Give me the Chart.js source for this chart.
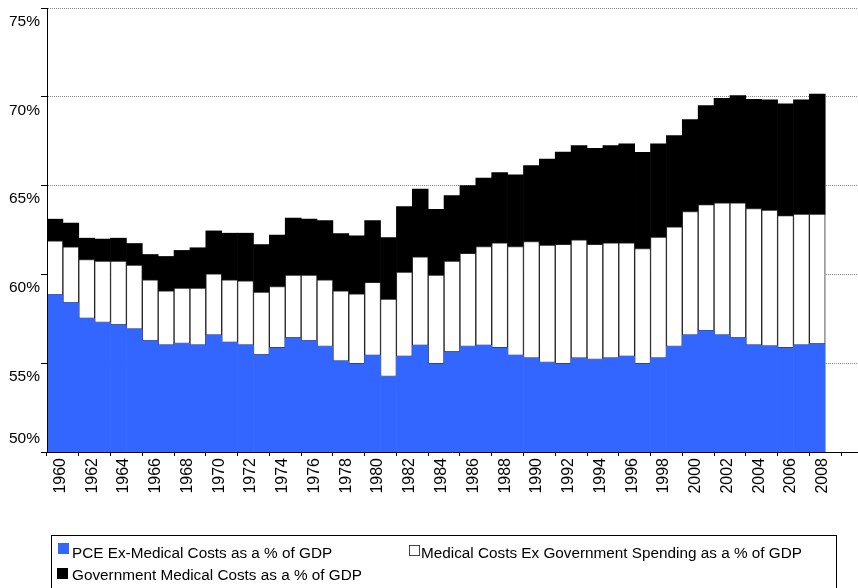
<!DOCTYPE html>
<html lang="en">
<head>
<meta charset="UTF-8">
<title>PCE and Medical Costs as a % of GDP</title>
<script src="https://cdn.jsdelivr.net/npm/chart.js"></script>
<style>
  html, body { margin: 0; padding: 0; background: #fff; }
  #wrap { position: relative; width: 858px; height: 588px; }
</style>
</head>
<body>
<div id="wrap"><canvas id="gdpChart"></canvas></div>

<script>
// categories (two empty years at the end, like the source axis)
const years = [
  '1960','1961','1962','1963','1964','1965','1966','1967','1968','1969',
  '1970','1971','1972','1973','1974','1975','1976','1977','1978','1979',
  '1980','1981','1982','1983','1984','1985','1986','1987','1988','1989',
  '1990','1991','1992','1993','1994','1995','1996','1997','1998','1999',
  '2000','2001','2002','2003','2004','2005','2006','2007','2008','2009','2010'
];
// only every other year gets a label
const yearLabels = [
  '1960','1962','1964','1966','1968','1970','1972','1974','1976','1978',
  '1980','1982','1984','1986','1988','1990','1992','1994','1996','1998',
  '2000','2002','2004','2006','2008'
];

// % of GDP, stacked: blue + white + black
const pceExMedical = [
  58.85, 58.40, 57.52, 57.29, 57.15, 56.92, 56.26, 56.02, 56.11, 56.02,
  56.58, 56.17, 56.02, 55.46, 55.87, 56.42, 56.26, 55.94, 55.12, 54.97,
  55.44, 54.25, 55.38, 56.00, 54.97, 55.63, 55.94, 56.00, 55.87, 55.44,
  55.29, 55.04, 54.97, 55.28, 55.21, 55.29, 55.38, 54.97, 55.29, 55.94,
  56.58, 56.83, 56.58, 56.43, 56.02, 55.96, 55.87, 56.02, 56.09
];
const privateMedical = [
  3.04, 3.15, 3.32, 3.46, 3.60, 3.60, 3.44, 3.06, 3.12, 3.21,
  3.45, 3.53, 3.62, 3.54, 3.45, 3.54, 3.70, 3.76, 3.96, 3.94,
  4.11, 4.36, 4.75, 4.99, 4.99, 5.12, 5.24, 5.57, 5.91, 6.13,
  6.56, 6.61, 6.73, 6.66, 6.49, 6.49, 6.40, 6.49, 6.81, 6.74,
  6.96, 7.10, 7.45, 7.60, 7.69, 7.66, 7.44, 7.37, 7.30
];
const governmentMedical = [
  1.22, 1.34, 1.20, 1.24, 1.29, 1.22, 1.42, 1.93, 2.12, 2.27,
  2.42, 2.62, 2.68, 2.68, 2.89, 3.21, 3.15, 3.33, 3.22, 3.26,
  3.48, 3.47, 3.69, 3.81, 3.71, 3.69, 3.82, 3.85, 3.95, 4.03,
  4.28, 4.84, 5.19, 5.31, 5.40, 5.47, 5.57, 5.42, 5.25, 5.14,
  5.18, 5.57, 5.89, 6.04, 6.15, 6.21, 6.29, 6.44, 6.76
];

const yTicks = [50, 55, 60, 65, 70, 75];

const seriesNames = [
  'PCE Ex-Medical Costs as a % of GDP',
  'Medical Costs Ex Government Spending as a % of GDP',
  'Government Medical Costs as a % of GDP'
];

// legend in a box under the chart, two items on the first row
const boxLegend = {
  id: 'boxLegend',
  afterDraw(chart) {
    const ctx = chart.ctx;
    const spots = [[58, 543, 72, 558], [409, 545, 421, 558], [57, 568, 72, 580]];
    ctx.save();
    ctx.strokeStyle = '#000';
    ctx.lineWidth = 1;
    ctx.strokeRect(51.5, 535.5, 785, 60);
    ctx.font = '15.3px "Liberation Sans", Arial, sans-serif';
    ctx.textBaseline = 'alphabetic';
    chart.data.datasets.forEach((ds, i) => {
      const [bx, by, tx, ty] = spots[i];
      ctx.fillStyle = ds.backgroundColor;
      ctx.fillRect(bx, by, 11, 11);
      if (ds.borderWidth) {
        ctx.strokeStyle = '#444';
        ctx.strokeRect(bx + 0.5, by + 0.5, 10, 10);
      }
      ctx.fillStyle = '#000';
      ctx.fillText(ds.label, tx, ty);
    });
    ctx.restore();
  }
};

new Chart(document.getElementById('gdpChart'), {
  type: 'bar',
  data: {
    labels: years,
    datasets: [
      { label: seriesNames[0], data: pceExMedical, backgroundColor: '#3366ff', borderWidth: 0 },
      { label: seriesNames[1], data: privateMedical, backgroundColor: '#ffffff',
        borderColor: '#222', borderWidth: 1, borderSkipped: false },
      { label: seriesNames[2], data: governmentMedical, backgroundColor: '#000000', borderWidth: 0 }
    ]
  },
  options: {
    responsive: true,
    maintainAspectRatio: false,
    animation: false,
    barPercentage: 1,
    categoryPercentage: 1,
    layout: { padding: { top: 8, right: 1, left: 0, bottom: 0 } },
    plugins: {
      legend: { display: false },
      tooltip: { enabled: false }
    },
    scales: {
      x: {
        stacked: true,
        offset: true,
        grid: {
          drawOnChartArea: false,
          offset: true,
          tickLength: 4,
          tickColor: c => c.index % 2 === 0 ? '#000' : 'rgba(0,0,0,0)'
        },
        border: { color: '#000', width: 1, z: 1 },
        ticks: {
          autoSkip: false,
          minRotation: 90,
          maxRotation: 90,
          padding: 2,
          labelOffset: 5.5,
          color: '#000',
          font: { family: '"Liberation Sans", Arial, sans-serif', size: 16 },
          callback: (v, i) => yearLabels.includes(years[i]) ? years[i] : ''
        },
        afterFit: s => { s.height = 136; s.paddingLeft = 0; s.paddingRight = 0; }
      },
      y: {
        stacked: true,
        min: 50,
        max: 75,
        afterBuildTicks: s => { s.ticks = yTicks.map(v => ({ value: v })); },
        grid: {
          color: c => (c.tick && c.tick.value === 50) ? 'rgba(0,0,0,0)' : '#8a8a8a',
          tickColor: '#000',
          tickLength: 6
        },
        border: { color: '#000', width: 1, z: 1, dash: [1, 1] },
        ticks: {
          padding: 1,
          color: '#000',
          font: { family: '"Liberation Sans", Arial, sans-serif', size: 15.5, lineHeight: 1.75 },
          // labels sit just under their grid line, the bottom one just above
          callback: v => v === 50 ? [v + '%', ''] : ['', v + '%']
        },
        afterFit: s => { s.width = 47; s.paddingTop = 0; s.paddingBottom = 0; }
      }
    }
  },
  plugins: [boxLegend]
});
</script>
</body>
</html>
